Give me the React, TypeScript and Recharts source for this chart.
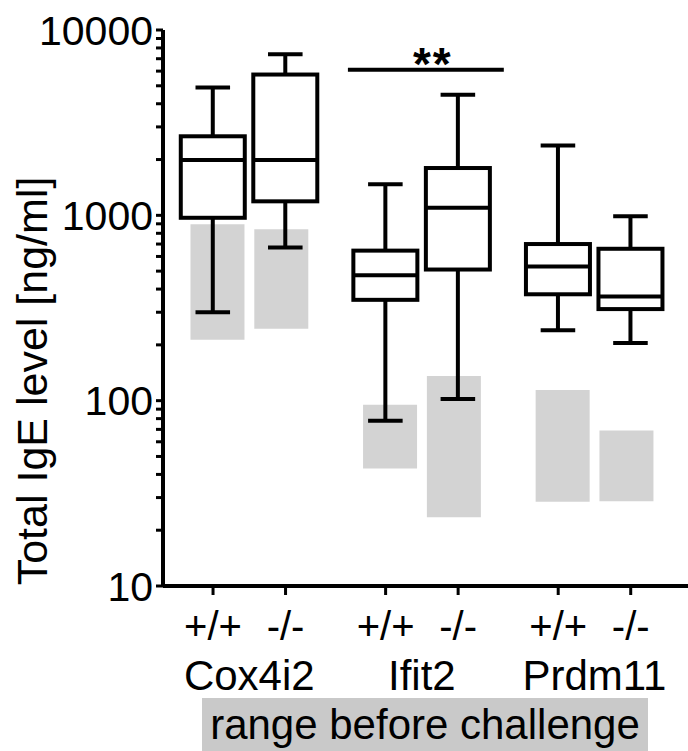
import React from 'react';
import { ComposedChart, Bar, XAxis, YAxis, ReferenceLine } from 'recharts';

// values (ng/ml)
const genes = ['Cox4i2', 'Ifit2', 'Prdm11'];
const genotypes = ['+/+', '-/-', '+/+', '-/-', '+/+', '-/-'];
const whiskerLow = [300, 670, 78, 102, 240, 205];
const boxQ1 = [970, 1190, 350, 510, 375, 312];
const boxMedian = [1990, 1990, 475, 1100, 530, 365];
const boxQ3 = [2670, 5750, 645, 1800, 700, 660];
const whiskerHigh = [4900, 7400, 1470, 4470, 2380, 990];
// grey "range before challenge" bars
const beforeLow = [213, 244, 43, 23.5, 28.5, 28.7];
const beforeHigh = [895, 840, 95, 136, 114, 69];
const sigLevel = 6100;
const sigLabel = '**';
const yTickLabels = ['10', '100', '1000', '10000'];
const bottomNote = 'range before challenge';

const FONT = '"Liberation Sans", Arial, sans-serif';
const GROUP_GAP = 0.38;
const GRAY_SHIFT = 0.06;
const X_MIN = -0.69;
const X_MAX = 6.55;
const SIG_FROM = 1.86;
const SIG_TO = 4.01;

const slot = (i: number) => i + GROUP_GAP * Math.floor(i / 2);

const data = genotypes.map((g, i) => ({
  name: g,
  pos: slot(i),
  grayPos: slot(i) + (i % 2 === 0 ? GRAY_SHIFT : -GRAY_SHIFT),
  whisker: [whiskerLow[i], whiskerHigh[i]],
  q1: boxQ1[i],
  median: boxMedian[i],
  q3: boxQ3[i],
  before: [beforeLow[i], beforeHigh[i]],
}));

const genoTicks = data.map((d) => d.pos);
const geneCenters = genes.map((_, k) => (slot(2 * k) + slot(2 * k + 1)) / 2);

const yTicks: number[] = [];
for (let d = 10; d < 10000; d *= 10) {
  for (let m = 1; m < 10; m++) yTicks.push(d * m);
}
yTicks.push(10000);

// whole box plot drawn from the whisker range bar; inner values placed on the same log scale
const BoxShape = (props: any) => {
  const { x, y, width, height, payload } = props;
  const [lo, hi] = payload.whisker;
  const span = Math.log10(hi) - Math.log10(lo);
  const py = (v: number) => y + (height * (Math.log10(hi) - Math.log10(v))) / span;
  const cx = x + width / 2;
  const cap = width * 0.27;
  const top = py(payload.q3);
  const bot = py(payload.q1);
  const mid = py(payload.median);
  return (
    <g stroke="#000" strokeWidth={4} fill="none">
      <line x1={cx} y1={y} x2={cx} y2={y + height} />
      <line x1={cx - cap} y1={y} x2={cx + cap} y2={y} />
      <line x1={cx - cap} y1={y + height} x2={cx + cap} y2={y + height} />
      <rect x={x} y={top} width={width} height={bot - top} fill="#fff" />
      <line x1={x} y1={mid} x2={x + width} y2={mid} />
    </g>
  );
};

const YTick = (props: any) => {
  const { x, y, payload } = props;
  const label = yTickLabels.find((t) => Number(t) === payload.value);
  if (!label) return <g />;
  return (
    <text x={x} y={y} dy="0.355em" textAnchor="end" fontSize={41} fill="#000" fontFamily={FONT}>
      {label}
    </text>
  );
};

const renderYLabel = (props: any) => {
  const vb = props.viewBox || { x: 0, y: 30, width: 163, height: 556 };
  const cx = vb.x + 47;
  const cy = vb.y + vb.height / 2 + 73;
  return (
    <text
      x={cx}
      y={cy}
      transform={`rotate(-90 ${cx} ${cy})`}
      textAnchor="middle"
      fontSize={43}
      fill="#000"
      fontFamily={FONT}
    >
      Total IgE level [ng/ml]
    </text>
  );
};

export default function App() {
  return (
    <div style={{ position: 'absolute', left: 0, top: 0, width: 688, height: 751, background: '#fff', fontFamily: FONT }}>
      <ComposedChart width={688} height={751} data={data} margin={{ top: 30, right: 0, bottom: 0, left: 0 }}>
        <XAxis
          xAxisId="g1"
          dataKey="pos"
          type="number"
          domain={[X_MIN, X_MAX]}
          allowDataOverflow
          ticks={genoTicks}
          interval={0}
          tickFormatter={(_v: any, i: number) => genotypes[i]}
          axisLine={{ stroke: '#000', strokeWidth: 4 }}
          tickLine={{ stroke: '#000', strokeWidth: 3 }}
          tickSize={9}
          tickMargin={17}
          tick={{ fontSize: 40, fill: '#000', fontFamily: FONT }}
          height={60}
        />
        <XAxis
          xAxisId="g2"
          dataKey="grayPos"
          type="number"
          domain={[X_MIN, X_MAX]}
          allowDataOverflow
          ticks={geneCenters}
          interval={0}
          tickFormatter={(_v: any, i: number) => genes[i]}
          axisLine={false}
          tickLine={false}
          tickSize={0}
          tickMargin={14}
          tick={{ fontSize: 42, fill: '#000', fontFamily: FONT }}
          height={105}
        />
        <YAxis
          scale="log"
          type="number"
          domain={[10, 10000]}
          allowDataOverflow
          ticks={yTicks}
          interval={0}
          width={163}
          axisLine={{ stroke: '#000', strokeWidth: 4 }}
          tickLine={{ stroke: '#000', strokeWidth: 3 }}
          tickSize={7}
          tickMargin={3}
          tick={<YTick />}
          label={renderYLabel}
        />
        <Bar xAxisId="g2" dataKey="before" barSize={54} fill="#d3d3d3" isAnimationActive={false} />
        <Bar xAxisId="g1" dataKey="whisker" barSize={64} shape={<BoxShape />} isAnimationActive={false} />
        <ReferenceLine
          xAxisId="g1"
          segment={[
            { x: SIG_FROM, y: sigLevel },
            { x: SIG_TO, y: sigLevel },
          ]}
          stroke="#000"
          strokeWidth={4}
          label={{ value: sigLabel, position: 'top', offset: -10, dx: 7, fontSize: 46, fontWeight: 700, letterSpacing: 2, fill: '#000', fontFamily: FONT }}
        />
      </ComposedChart>
      <div
        style={{
          position: 'absolute',
          left: 202,
          top: 698,
          width: 446,
          height: 53,
          background: '#c9c9c9',
          fontSize: 42,
          lineHeight: '53px',
          textAlign: 'center',
          color: '#000',
          whiteSpace: 'nowrap',
        }}
      >
        {bottomNote}
      </div>
    </div>
  );
}
